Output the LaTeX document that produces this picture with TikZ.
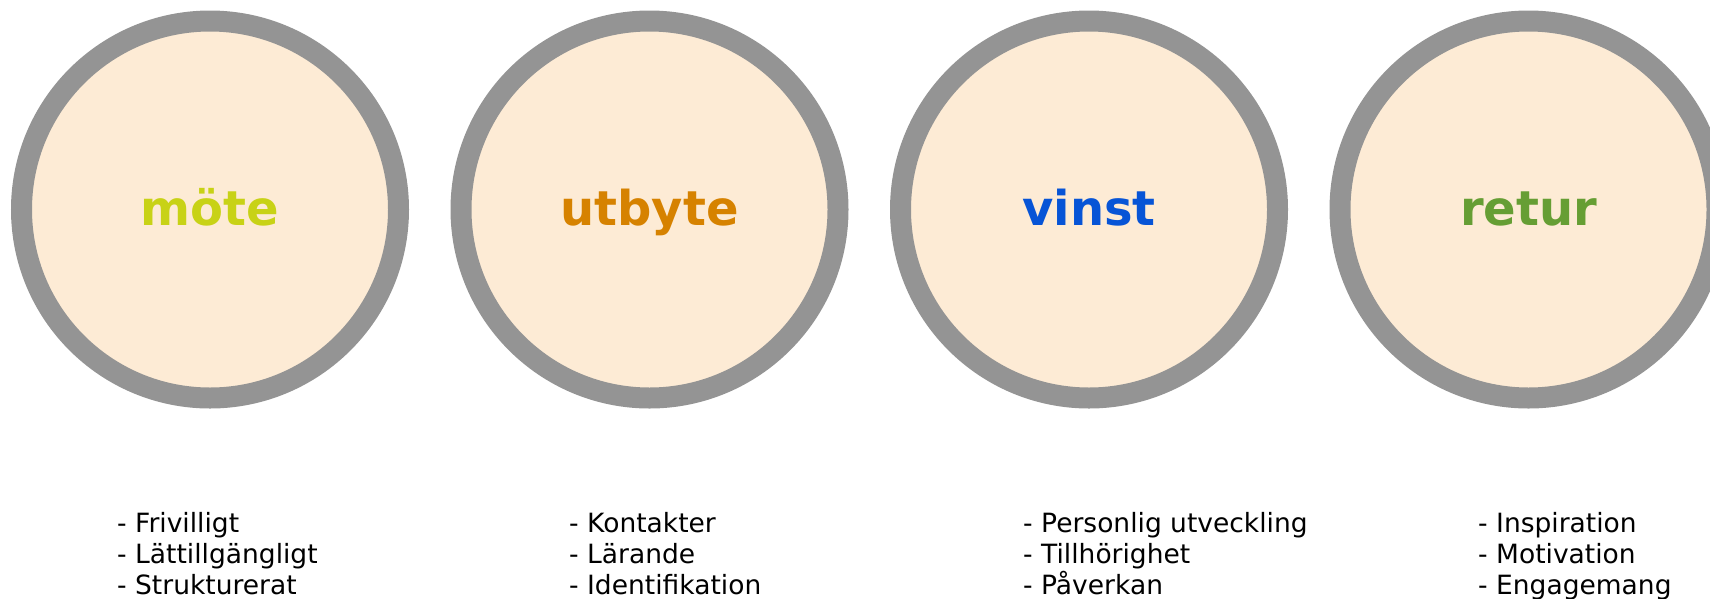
\documentclass[tikz,border=0pt]{standalone}
\usepackage{fontspec}
\setmainfont{DejaVu Sans}
\definecolor{ringgray}{RGB}{148,148,148}
\definecolor{peach}{RGB}{253,235,213}
\definecolor{moteC}{RGB}{200,210,22}
\definecolor{utbyteC}{RGB}{214,130,0}
\definecolor{vinstC}{RGB}{7,84,214}
\definecolor{returC}{RGB}{102,158,52}
\begin{document}
\begin{tikzpicture}[x=1pt,y=-1pt,
	ring/.style={circle,draw=ringgray,fill=peach,line width=21pt,
		minimum size=377pt,inner sep=0pt,text height=35pt,text depth=4pt,
		font=\fontsize{48pt}{48pt}\selectfont\bfseries},
	list/.style={anchor=base west,align=left,inner sep=0pt,
		font=\fontsize{26.5pt}{31pt}\selectfont}]
	\useasboundingbox (0,0) rectangle (1710,598);
	\node[ring,text=moteC] (mote) at (210,209.5) {möte};
	\node[ring,text=utbyteC] (utbyte) at (649.5,209.5) {utbyte};
	\node[ring,text=vinstC] (vinst) at (1089,209.5) {vinst};
	\node[ring,text=returC] (retur) at (1528.5,209.5) {retur};
	% base = last line
	\node[list] (moteList) at (117,594)
		{- Frivilligt\\- Lättillgängligt\\- Strukturerat};
	\node[list] (utbyteList) at (569,594)
		{- Kontakter\\- Lärande\\- Identifikation};
	\node[list] (vinstList) at (1023,594)
		{- Personlig utveckling\\- Tillhörighet\\- Påverkan};
	\node[list] (returList) at (1478,594)
		{- Inspiration\\- Motivation\\- Engagemang};
\end{tikzpicture}
\end{document}
